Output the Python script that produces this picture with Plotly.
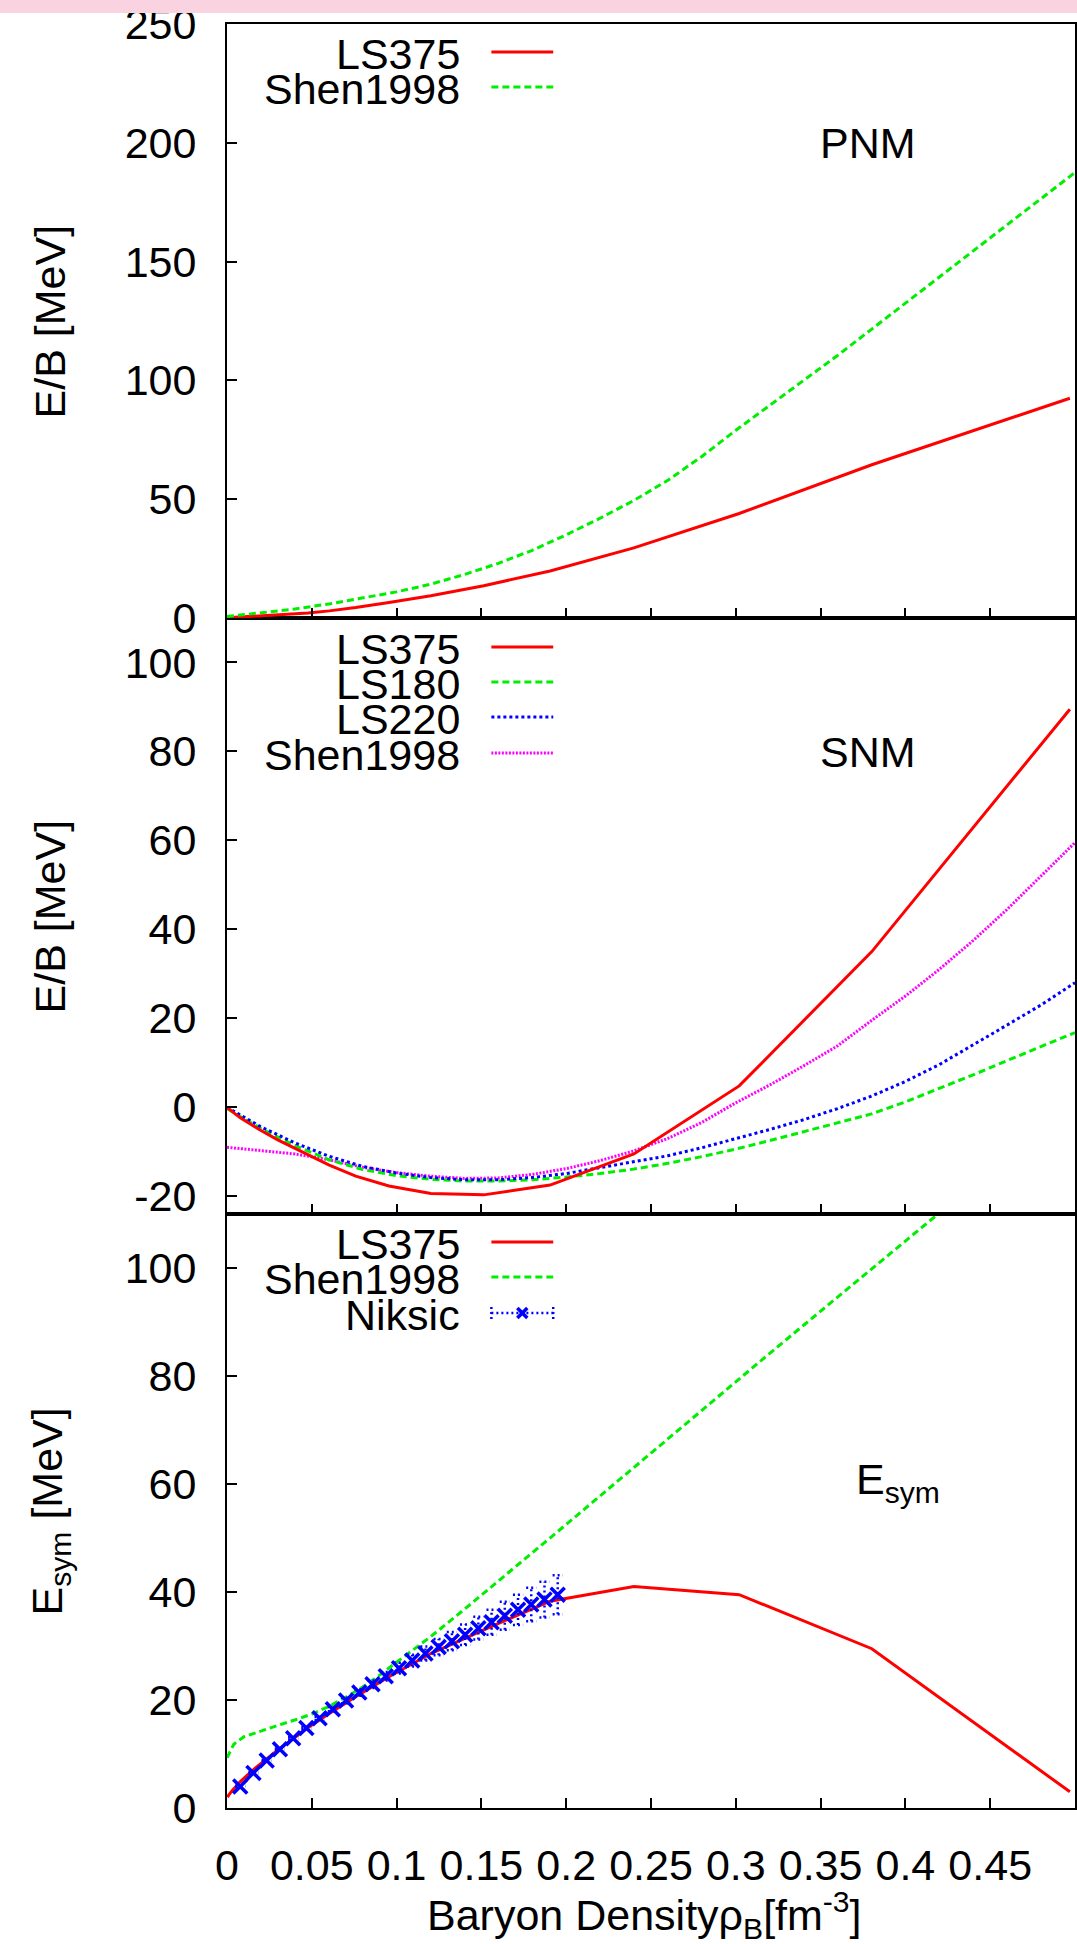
import plotly.graph_objects as go

# ---------------- data ----------------
# LS375 table densities (log-spaced grid) [fm^-3]
rho_ls = [0.0003, 0.0012, 0.0030, 0.0048, 0.0076, 0.0120, 0.0190, 0.0302, 0.0380,
          0.0479, 0.0603, 0.0759, 0.0955, 0.1202, 0.1514, 0.1905, 0.2399, 0.3020,
          0.3802, 0.4970]
pnm_ls375 = [0.0, 0.1, 0.2, 0.3, 0.4, 0.6, 0.9, 1.3, 1.6, 2.1, 3.0, 4.4, 6.5, 9.4,
             13.6, 19.8, 29.5, 44.0, 64.5, 92.5]
snm_ls375 = [-0.1, -0.4, -1.0, -1.5, -2.3, -3.4, -5.0, -7.4, -8.9, -10.7, -13.0,
             -15.5, -17.7, -19.4, -19.7, -17.5, -10.5, 4.8, 35.0, 89.5]
esym_ls375 = [2.0, 2.5, 3.2, 3.9, 4.8, 6.1, 8.0, 10.8, 12.6, 14.9, 17.5, 20.6, 24.3,
              28.6, 33.0, 38.3, 41.0, 39.5, 29.5, 3.0]

# uniform density grid for the other tables [fm^-3]
rho_u = [0.00, 0.02, 0.04, 0.06, 0.08, 0.10, 0.12, 0.14, 0.16, 0.18, 0.20, 0.22, 0.24,
         0.26, 0.28, 0.30, 0.32, 0.34, 0.36, 0.38, 0.40, 0.42, 0.44, 0.46, 0.48, 0.50]
pnm_shen = [0.6, 2.2, 3.8, 5.9, 8.3, 11.0, 14.2, 18.3, 23.0, 28.5, 35.0, 42.0, 49.5,
            58.0, 68.0, 79.0, 89.5, 100.0, 110.5, 121.5, 132.5, 143.5, 154.5, 165.5,
            176.5, 187.5]
snm_ls180 = [-0.3, -4.8, -8.6, -11.8, -14.0, -15.4, -16.2, -16.6, -16.6, -16.3, -15.7,
             -14.9, -13.9, -12.6, -11.1, -9.4, -7.5, -5.5, -3.5, -1.5, 1.2, 4.2, 7.3,
             10.5, 13.7, 16.8]
snm_ls220 = [0.0, -4.4, -8.0, -11.0, -13.3, -14.8, -15.8, -16.3, -16.3, -15.8, -14.9,
             -13.6, -12.3, -10.9, -9.1, -7.1, -5.0, -2.8, -0.3, 2.5, 5.8, 9.6, 14.0,
             18.5, 23.0, 28.0]
snm_shen = [-9.0, -9.8, -10.5, -11.8, -13.5, -14.7, -15.5, -16.0, -15.9, -15.1, -13.8,
            -12.0, -9.8, -7.0, -3.4, 1.0, 5.0, 9.3, 13.8, 19.5, 25.0, 31.0, 37.5, 44.5,
            52.0, 59.5]

rho_shen_sym = [0.000, 0.004, 0.01, 0.02, 0.03, 0.04, 0.05, 0.06, 0.07, 0.08, 0.09,
                0.10, 0.12, 0.14, 0.16, 0.18, 0.20, 0.22, 0.24, 0.26, 0.28, 0.30, 0.32,
                0.34, 0.36, 0.38, 0.40, 0.42, 0.44, 0.46]
esym_shen = [9.3, 11.8, 13.2, 14.3, 15.3, 16.3, 17.4, 18.8, 20.5, 22.4, 24.6, 27.0,
             31.7, 36.8, 42.0, 47.2, 52.5, 57.8, 63.1, 68.4, 73.7, 79.0, 84.2, 89.4,
             94.6, 99.8, 105.0, 110.2, 115.4, 120.6]

# Niksic symmetry energy with uncertainty
rho_niksic = [0.0078, 0.0156, 0.0234, 0.0312, 0.0390, 0.0468, 0.0546, 0.0624, 0.0702,
              0.0780, 0.0858, 0.0936, 0.1014, 0.1092, 0.1170, 0.1248, 0.1326, 0.1404,
              0.1482, 0.1560, 0.1638, 0.1716, 0.1794, 0.1872, 0.1950]
esym_niksic = [4.0, 6.5, 8.8, 10.9, 12.9, 14.8, 16.6, 18.3, 19.9, 21.4, 22.9, 24.4,
               25.9, 27.3, 28.6, 29.8, 30.9, 32.1, 33.3, 34.4, 35.6, 36.7, 37.7, 38.6,
               39.5]
err_niksic = [0.1, 0.1, 0.1, 0.1, 0.2, 0.2, 0.3, 0.4, 0.5, 0.6, 0.7, 0.8, 1.0, 1.1,
              1.3, 1.5, 1.7, 1.9, 2.1, 2.3, 2.6, 2.8, 3.1, 3.3, 3.6]

x_ticks = [0, 0.05, 0.1, 0.15, 0.2, 0.25, 0.3, 0.35, 0.4, 0.45]
x_ticktext = ["0", "0.05", "0.1", "0.15", "0.2", "0.25", "0.3", "0.35", "0.4", "0.45"]
pnm_ticks = [0, 50, 100, 150, 200, 250]
snm_ticks = [-20, 0, 20, 40, 60, 80, 100]
esym_ticks = [0, 20, 40, 60, 80, 100]

# ---------------- styles ----------------
FONT = "Liberation Sans"
FS = 43
RED = "#ff0000"
GREEN = "#00ee00"
BLUE = "#0000ff"
MAGENTA = "#ff00ff"
sty = {
    "LS375": dict(color=RED, width=3, dash="solid"),
    "Shen1998": dict(color=GREEN, width=3, dash="7px,4px"),
    "LS180": dict(color=GREEN, width=3, dash="7px,4px"),
    "LS220": dict(color=BLUE, width=3, dash="3px,3px"),
    "Shen1998m": dict(color=MAGENTA, width=3, dash="2px,1.5px"),
}
ERRBAR = dict(color=BLUE, width=2.5, dash="2px,3px")

# page geometry (pixels)
W, H = 1077, 1944
ML, MR, MT, MB = 227, 0, 24, 136
PW = W - ML - MR
PH = H - MT - MB


def px(x):
    return (x - ML) / PW


def py(y):
    return (H - MB - y) / PH


d1 = py(1214)
d2 = py(618)

fig = go.Figure()

# top: pure neutron matter
fig.add_trace(go.Scatter(x=rho_ls, y=pnm_ls375, mode="lines", line=sty["LS375"],
                         xaxis="x3", yaxis="y3"))
fig.add_trace(go.Scatter(x=rho_u, y=pnm_shen, mode="lines", line=sty["Shen1998"],
                         xaxis="x3", yaxis="y3"))

# middle: symmetric nuclear matter
fig.add_trace(go.Scatter(x=rho_u, y=snm_shen, mode="lines", line=sty["Shen1998m"],
                         xaxis="x2", yaxis="y2"))
fig.add_trace(go.Scatter(x=rho_u, y=snm_ls180, mode="lines", line=sty["LS180"],
                         xaxis="x2", yaxis="y2"))
fig.add_trace(go.Scatter(x=rho_u, y=snm_ls220, mode="lines", line=sty["LS220"],
                         xaxis="x2", yaxis="y2"))
fig.add_trace(go.Scatter(x=rho_ls, y=snm_ls375, mode="lines", line=sty["LS375"],
                         xaxis="x2", yaxis="y2"))

# bottom: symmetry energy
fig.add_trace(go.Scatter(x=rho_shen_sym, y=esym_shen, mode="lines", line=sty["Shen1998"],
                         xaxis="x", yaxis="y"))
fig.add_trace(go.Scatter(x=rho_ls, y=esym_ls375, mode="lines", line=sty["LS375"],
                         xaxis="x", yaxis="y"))

# Niksic error bars drawn as dotted segments with caps
cap = 0.003
ex, ey = [], []
for r, e, d in zip(rho_niksic, esym_niksic, err_niksic):
    lo, hi = e - d, e + d
    ex += [r, r, None, r - cap, r + cap, None, r - cap, r + cap, None]
    ey += [lo, hi, None, hi, hi, None, lo, lo, None]
fig.add_trace(go.Scatter(x=ex, y=ey, mode="lines", line=ERRBAR,
                         xaxis="x", yaxis="y"))
fig.add_trace(go.Scatter(x=rho_niksic, y=esym_niksic, mode="markers",
                         marker=dict(symbol="x-thin", size=14, color=BLUE,
                                     line=dict(color=BLUE, width=3.5)),
                         xaxis="x", yaxis="y"))

axis_common = dict(showline=True, linecolor="black", linewidth=2, mirror=True,
                   ticks="inside", ticklen=10, tickwidth=1.5, tickcolor="black",
                   showgrid=False, zeroline=False,
                   tickfont=dict(family=FONT, size=FS, color="black"))

fig.update_layout(
    width=W, height=H, showlegend=False,
    paper_bgcolor="white", plot_bgcolor="white",
    margin=dict(l=ML, r=MR, t=MT, b=MB),
    xaxis=dict(domain=[0, 1], anchor="y", range=[0, 0.5], tickvals=x_ticks,
               ticktext=x_ticktext, ticklabelstandoff=18, **axis_common),
    xaxis2=dict(domain=[0, 1], anchor="y2", range=[0, 0.5], tickvals=x_ticks,
                showticklabels=False, matches="x", **axis_common),
    xaxis3=dict(domain=[0, 1], anchor="y3", range=[0, 0.5], tickvals=x_ticks,
                showticklabels=False, matches="x", **axis_common),
    yaxis=dict(domain=[0, d1], anchor="x", range=[0, 110], tickvals=esym_ticks,
               ticklabelstandoff=20, **axis_common),
    yaxis2=dict(domain=[d1, d2], anchor="x2", range=[-24, 110], tickvals=snm_ticks,
                ticktext=[str(v) for v in snm_ticks], ticklabelstandoff=20,
                **axis_common),
    yaxis3=dict(domain=[d2, 1], anchor="x3", range=[0, 250], tickvals=pnm_ticks,
                ticklabelstandoff=20, **axis_common),
)

ann = []
shapes = []


def text(x, y, s, size=FS, xanchor="center", angle=0):
    ann.append(dict(x=x, y=y, xref="paper", yref="paper", text=s, showarrow=False,
                    xanchor=xanchor, yanchor="middle", textangle=angle,
                    font=dict(family=FONT, size=size, color="black")))


def key_row(label, ypix, line):
    text(px(463), py(ypix + 2), label, xanchor="right")
    shapes.append(dict(type="line", xref="paper", yref="paper", x0=px(492), x1=px(554),
                       y0=py(ypix), y1=py(ypix), line=line))


# keys
key_row("LS375", 52, sty["LS375"])
key_row("Shen1998", 87, sty["Shen1998"])
key_row("LS375", 647, sty["LS375"])
key_row("LS180", 682, sty["LS180"])
key_row("LS220", 717, sty["LS220"])
key_row("Shen1998", 753, sty["Shen1998m"])
key_row("LS375", 1242, sty["LS375"])
key_row("Shen1998", 1277, sty["Shen1998"])
key_row("Niksic", 1313, ERRBAR)
for xc in (492, 554):
    shapes.append(dict(type="line", xref="paper", yref="paper", x0=px(xc), x1=px(xc),
                       y0=py(1307), y1=py(1319), line=ERRBAR))
for dx in (-5, 5):
    shapes.append(dict(type="line", xref="paper", yref="paper", x0=px(523 - dx),
                       x1=px(523 + dx), y0=py(1308), y1=py(1318),
                       line=dict(color=BLUE, width=3.5)))

# panel labels
text(px(870), py(143), "PNM")
text(px(870), py(752), "SNM")
text(px(855), py(1482), "E<sub>sym</sub>", xanchor="left")

# axis titles
text(px(50), (d2 + 1) / 2, "E/B [MeV]", angle=-90)
text(px(50), (d1 + d2) / 2, "E/B [MeV]", angle=-90)
text(px(50), d1 / 2, "E<sub>sym</sub> [MeV]", angle=-90)
text(px(645), py(1915), "Baryon Densityρ<sub>B</sub>[fm<sup>-3</sup>]")

# top band
shapes.append(dict(type="rect", xref="paper", yref="paper", x0=-0.3, x1=1.05,
                   y0=py(13), y1=py(-5), fillcolor="#f9d3e0", line=dict(width=0),
                   layer="above"))

fig.update_layout(annotations=ann, shapes=shapes)
fig.write_html("out.html")
